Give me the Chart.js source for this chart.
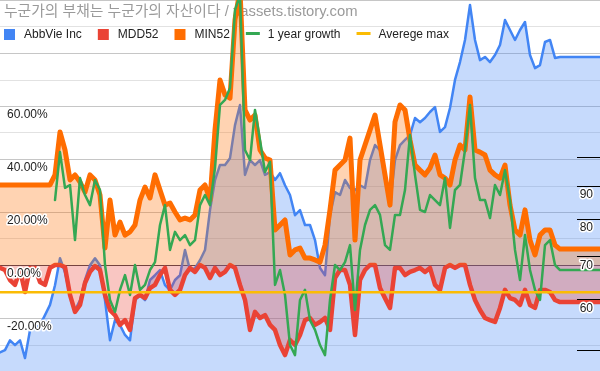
<!DOCTYPE html>
<html>
<head>
<meta charset="utf-8">
<script src="https://cdn.jsdelivr.net/npm/chart.js@4.4.1/dist/chart.umd.min.js"></script>
<style>
  body { margin: 0; background: #fff; }
  canvas { display: block; }
</style>
</head>
<body>
<canvas id="chart" width="600" height="371"></canvas>
<script>
const titleText = '누군가의 부채는 누군가의 자산이다 / xassets.tistory.com';
const seriesNames = ['AbbVie Inc', 'MDD52', 'MIN52', '1 year growth', 'Averege max'];
const seriesColors = ['#4285f4', '#ea4335', '#ff6d01', '#34a853', '#fbbc04'];

// AbbVie close (right axis, log scale)
const abbvie = [49.6, 50.0, 51.8, 50.9, 51.8, 48.6, 53.7, 54.1, 54.7, 56.7, 58.8,
  63.1, 69.5, 66.1, 60.9, 57.7, 59.8, 64.3, 67.8, 69.5, 67.8,
  59.8, 51.8, 55.7, 54.7, 52.8, 51.8, 59.8, 60.9, 59.8, 64.3,
  65.4, 66.6, 63.1, 62.0, 64.3, 65.4, 71.6, 66.6, 67.1, 69.0,
  71.6, 82.6, 92.0, 97.1, 97.1, 99.5, 112.0, 120.4, 93.7, 98.8,
  97.1, 98.8, 93.7, 94.7, 92.0, 94.3, 90.3, 87.2, 81.1, 82.6,
  78.3, 78.3, 74.2, 67.1, 65.4, 81.1, 88.1, 87.2, 92.0, 89.4,
  88.7, 90.3, 89.4, 98.8, 104.3, 102.4, 92.6, 84.1, 98.8, 104.3,
  106.2, 108.1, 114.9, 113.2, 114.9, 117.4, 119.5, 109.3, 111.2, 119.1,
  131.7, 140.4, 152.0, 172.3, 152.0, 141.4, 143.0, 140.4, 144.0, 149.3,
  163.3, 157.5, 152.0, 157.5, 162.1, 144.0, 137.4, 138.9, 150.9, 152.0,
  142.5, 143.0, 143.0, 143.0, 143.0, 143.0, 143.0, 143.0, 143.0, 143.0];

// drawdown from 52 week high, %
const mdd52 = [-1.1, -1.9, -5.7, -7.5, -1.9, -10.2, -1.1, -1.1, -6.4, -7.5, -1.1,
  0, 0, -0.8, -11.3, -17.7, -15.1, -6.8, -2.6, -0.4, -1.9,
  -11.3, -17.0, -18.9, -22.6, -20.8, -24.5, -12.5, -11.3, -12.5, -8.7,
  -7.5, -3.8, -1.1, -9.4, -11.3, -9.4, -3.8, -1.1, -2.6, 0,
  -1.1, -4.9, -1.1, -3.8, -2.6, 0, -1.1, -7.5, -13.2, -24.5,
  -17.7, -20.0, -18.9, -22.6, -24.5, -30.2, -34.0, -28.3, -30.2, -26.4,
  -20.8, -20.0, -22.6, -21.5, -20.0, -24.5, -4.9, -1.9, -1.9, -7.5,
  -26.4, -5.7, -1.9, 0, 0, -8.7, -12.5, -16.2, -1.1, -1.1,
  -3.8, -2.6, -1.9, -1.1, -2.6, -1.1, -7.5, -9.4, -1.1, 0,
  -1.1, 0, 0, -7.5, -13.2, -17.0, -20.0, -20.8, -21.5, -16.2,
  -9.4, -12.5, -13.2, -15.1, -9.4, -15.1, -16.2, -9.4, -9.4, -10.2,
  -13.2, -14.0, -14.0, -14.0, -14.0, -14.0, -14.0, -14.0, -14.0, -14.0];

// rise above 52 week low, %
const min52 = [30.2, 30.2, 30.2, 30.2, 30.2, 30.2, 30.2, 30.2, 30.2, 30.2, 30.2,
  34.0, 50.2, 43.4, 32.1, 34.0, 31.3, 27.5, 34.0, 32.1, 26.4,
  6.4, 24.5, 11.3, 16.2, 11.3, 12.5, 15.1, 24.5, 29.4, 25.3,
  34.0, 28.3, 22.6, 23.4, 20.0, 17.0, 17.7, 17.0, 18.9, 28.3,
  30.2, 24.5, 50.9, 69.8, 64.2, 63.0, 92.5, 103.8, 58.5, 54.7,
  56.6, 43.4, 40.4, 39.6, 13.2, 15.1, 17.0, 3.8, 5.7, 6.4,
  2.6, 2.6, 1.9, 1.1, 7.5, 20.8, 35.8, 37.7, 39.6, 47.9,
  9.4, 39.6, 45.3, 50.9, 56.6, 45.3, 34.0, 22.6, 54.0, 60.4,
  58.5, 47.2, 37.7, 35.8, 34.0, 36.6, 41.5, 34.0, 32.8, 30.2,
  39.6, 45.3, 43.4, 63.4, 43.4, 42.6, 41.5, 35.8, 34.0, 32.8,
  37.7, 22.6, 13.2, 11.3, 20.8, 9.4, 3.8, 11.3, 13.2, 13.2,
  7.5, 6.0, 6.0, 6.0, 6.0, 6.0, 6.0, 6.0, 6.0, 6.0];

// 1 year growth, %
const growth = [null, null, null, null, null, null, null, null, null, null, null,
  24.5, 42.6, 29.1, 30.2, 9.4, 32.8, 26.4, 22.6, 32.1, 28.3,
  0, -13.2, -17.7, -9.4, -3.8, -11.3, 0, -9.4, -7.5, -1.9,
  1.1, 15.1, 22.6, 5.7, 12.5, 9.4, 11.3, 7.5, 9.4, 22.6,
  26.4, 22.6, 36.6, 60.4, 62.3, 66.8, 96.2, 101.9, 43.4, 39.6,
  58.5, 47.2, 35.1, 38.9, -7.5, -1.9, -11.3, -30.2, -34.0, -13.2,
  -9.4, -20.8, -24.5, -30.2, -34.0, -13.2, 0, -1.9, 1.1, 7.5,
  -17.0, 5.7, 15.1, 20.8, 22.6, 18.9, 7.5, 5.7, 18.9, 18.9,
  28.3, 49.1, 34.0, 20.8, 20.0, 26.4, 24.5, 22.6, 32.8, 14.0,
  28.3, 30.2, 43.4, 60.4, 32.8, 24.5, 24.5, 17.7, 30.2, 26.4,
  35.8, 24.5, 5.7, -5.7, 11.3, -1.9, -9.4, -13.2, 7.5, 9.4,
  0, -1.9, -1.9, -1.9, -1.9, -1.9, -1.9, -1.9, -1.9, -1.9];

const averegeMax = -10.3;

const pctLabels = [60, 40, 20, 0, -20];
const priceTicks = [50, 60, 70, 80, 90, 100];
const priceLabels = [60, 70, 80, 90];

const labels = abbvie.map((_, i) => i);
const FONT = '12px Arial, "Liberation Sans", sans-serif';

function haloText(ctx, text, x, y) {
    ctx.lineWidth = 3;
    ctx.strokeStyle = '#fff';
    ctx.lineJoin = 'round';
    ctx.strokeText(text, x, y);
    ctx.fillStyle = '#222';
    ctx.fillText(text, x, y);
}

const overlay = {
    id: 'overlay',
    beforeDatasetsDraw(chart) {
        const { ctx, chartArea: a, scales } = chart;
        ctx.save();
        // gridlines
        for (let v = -40; v <= 100; v += 10) {
            const y = Math.round(scales.y.getPixelForValue(v)) + 0.5;
            ctx.strokeStyle = v === 0 ? '#444' : (v % 20 === 0 ? '#c6c6c6' : '#e2e2e2');
            ctx.lineWidth = 1;
            ctx.beginPath();
            ctx.moveTo(a.left, y);
            ctx.lineTo(a.right, y);
            ctx.stroke();
        }
        // title
        ctx.font = '14.8px Arial, "Noto Sans CJK KR", sans-serif';
        ctx.fillStyle = '#9a9a9a';
        ctx.textBaseline = 'middle';
        ctx.fillText(titleText, 4, 12);
        // legend
        ctx.font = FONT;
        let x = 4;
        seriesNames.forEach((name, i) => {
            ctx.fillStyle = seriesColors[i];
            let w;
            if (i < 3) {
                ctx.fillRect(x, 29, 11, 11);
                w = 20;
            } else {
                ctx.fillRect(x, 32, 14, 3);
                w = 22;
            }
            ctx.fillStyle = '#222';
            ctx.fillText(name, x + w, 34.5);
            x += w + ctx.measureText(name).width + 16;
        });
        ctx.restore();
    },
    afterDatasetsDraw(chart) {
        const { ctx, chartArea: a, scales } = chart;
        ctx.save();
        ctx.font = FONT;
        ctx.textBaseline = 'middle';
        // left axis labels
        ctx.textAlign = 'left';
        pctLabels.forEach(v => {
            const y = scales.y.getPixelForValue(v);
            haloText(ctx, v.toFixed(2) + '%', 7, y + 9);
        });
        // right axis ticks
        ctx.strokeStyle = '#000';
        ctx.lineWidth = 1;
        priceTicks.forEach(v => {
            const y = Math.round(scales.y2.getPixelForValue(v)) + 0.5;
            ctx.beginPath();
            ctx.moveTo(577, y);
            ctx.lineTo(a.right, y);
            ctx.stroke();
        });
        ctx.textAlign = 'right';
        priceLabels.forEach(v => {
            const y = scales.y2.getPixelForValue(v);
            haloText(ctx, String(v), 593, y + 9);
        });
        ctx.restore();
    }
};

function lineSet(label, data, color, width, extra) {
    return Object.assign({
        label: label,
        data: data,
        borderColor: color,
        borderWidth: width,
        pointRadius: 0,
        tension: 0,
        fill: false,
        borderJoinStyle: 'round',
        borderCapStyle: 'round',
        yAxisID: 'y'
    }, extra);
}

new Chart(document.getElementById('chart'), {
    type: 'line',
    data: {
        labels: labels,
        datasets: [
            lineSet(seriesNames[0], abbvie, seriesColors[0], 2.5,
                { yAxisID: 'y2', fill: 'start', backgroundColor: 'rgba(66,133,244,0.3)', order: 5 }),
            lineSet(seriesNames[1], mdd52, seriesColors[1], 4.5,
                { fill: 'origin', backgroundColor: 'rgba(234,67,53,0.3)', order: 4 }),
            lineSet(seriesNames[2], min52, seriesColors[2], 5,
                { fill: 'origin', backgroundColor: 'rgba(255,109,1,0.3)', order: 3 }),
            lineSet(seriesNames[3], growth, seriesColors[3], 2.5, { order: 2 }),
            lineSet(seriesNames[4], labels.map(() => averegeMax), seriesColors[4], 2.5, { order: 1 })
        ]
    },
    options: {
        responsive: false,
        animation: false,
        devicePixelRatio: 1,
        layout: { padding: 0 },
        plugins: {
            legend: { display: false },
            tooltip: { enabled: false }
        },
        scales: {
            x: { display: false, offset: false },
            y: { display: false, min: -40, max: 100 },
            y2: { display: false, type: 'logarithmic', min: 46.4, max: 175.4 }
        }
    },
    plugins: [overlay]
});
</script>
</body>
</html>
